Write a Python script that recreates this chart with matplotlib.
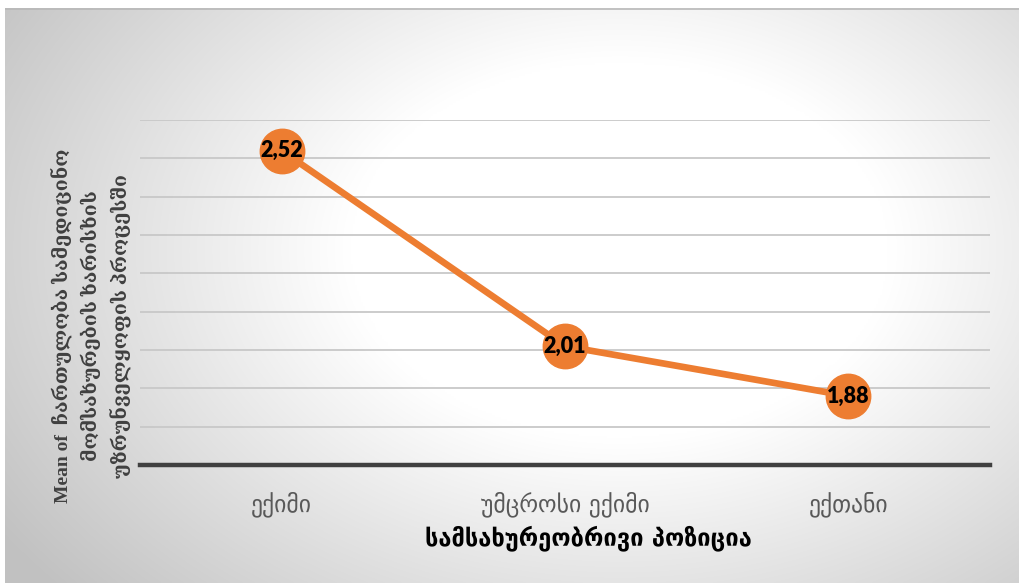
import numpy as np
import matplotlib
matplotlib.use("Agg")
import matplotlib.pyplot as plt

# Data
categories = ["ექიმი", "უმცროსი ექიმი", "ექთანი"]
means = [2.52, 2.01, 1.88]
value_labels = ["2,52", "2,01", "1,88"]

y_min, y_max, y_step = 1.7, 2.6, 0.1

y_label = "Mean of  ჩართულობა სამედიცინო\nმომსახურების ხარისხის\nუზრუნველყოფის პროცესში"
x_label = "სამსახურეობრივი პოზიცია"

W, H, DPI = 1019, 583, 100
fig = plt.figure(figsize=(W / DPI, H / DPI), dpi=DPI)
fig.patch.set_facecolor("white")

# Radial-gradient chart area background
bg = fig.add_axes([5 / W, 0, (W - 5) / W, (H - 8) / H], zorder=0)
gh, gw = 300, 520
yy, xx = np.mgrid[0:gh, 0:gw]
px = xx / (gw - 1) * (W - 5) + 5
py = yy / (gh - 1) * (H - 8) + 8
r = np.sqrt(((px - 620) / 600) ** 2 + ((py - 250) / 420) ** 2)
val = 1 - 0.23 * np.clip((r - 0.45) / 0.75, 0, None)
val = np.clip(val, 0.76, 1)
img = np.dstack([val, val, val])
bg.imshow(img, aspect="auto", extent=[0, 1, 0, 1], origin="upper", interpolation="bilinear")
bg.set_xlim(0, 1)
bg.set_ylim(0, 1)
bg.plot([0, 1], [0.999, 0.999], color="#b8b8b8", lw=1.2)
bg.axis("off")

# Main plot
ax = fig.add_axes([140 / W, 1 - 465 / H, 850 / W, 345 / H], zorder=1)
ax.patch.set_alpha(0)
x = np.arange(len(categories))
ax.set_xlim(-0.5, len(categories) - 0.5)
ax.set_ylim(y_min, y_max)

for gy in np.arange(y_min + y_step, y_max + 1e-9, y_step):
    ax.axhline(gy, color="#c8c8c8", lw=1.3, zorder=1)
ax.axhline(y_min, color="#404040", lw=3.2, zorder=2, clip_on=False)

ax.plot(x, means, color="#ED7D31", lw=4.8, marker="o", markersize=32,
        markerfacecolor="#ED7D31", markeredgecolor="#ED7D31", zorder=3,
        solid_capstyle="round")
for xi, yi, lab in zip(x, means, value_labels):
    ax.text(xi, yi, lab, ha="center", va="center", fontsize=15.5,
            fontweight="heavy", family=["Lato", "DejaVu Sans"], color="black", zorder=4)

for s in ax.spines.values():
    s.set_visible(False)
ax.set_yticks([])
ax.set_xticks(x)
ax.set_xticklabels(categories, fontsize=17, color="#595959",
                   family=["DejaVu Sans"])
ax.tick_params(axis="x", length=0, pad=19)

fig.text(588 / W, 1 - 538 / H, x_label, ha="center", va="center",
         fontsize=17, fontweight="bold", color="black", family=["DejaVu Sans"])
fig.text(91 / W, 1 - 326 / H, y_label, ha="center", va="center", rotation=90,
         fontsize=14, fontweight="bold", color="#404040", linespacing=1.5,
         family=["Liberation Serif", "DejaVu Serif", "DejaVu Sans"], multialignment="center")

fig.savefig("out.png", dpi=DPI)
